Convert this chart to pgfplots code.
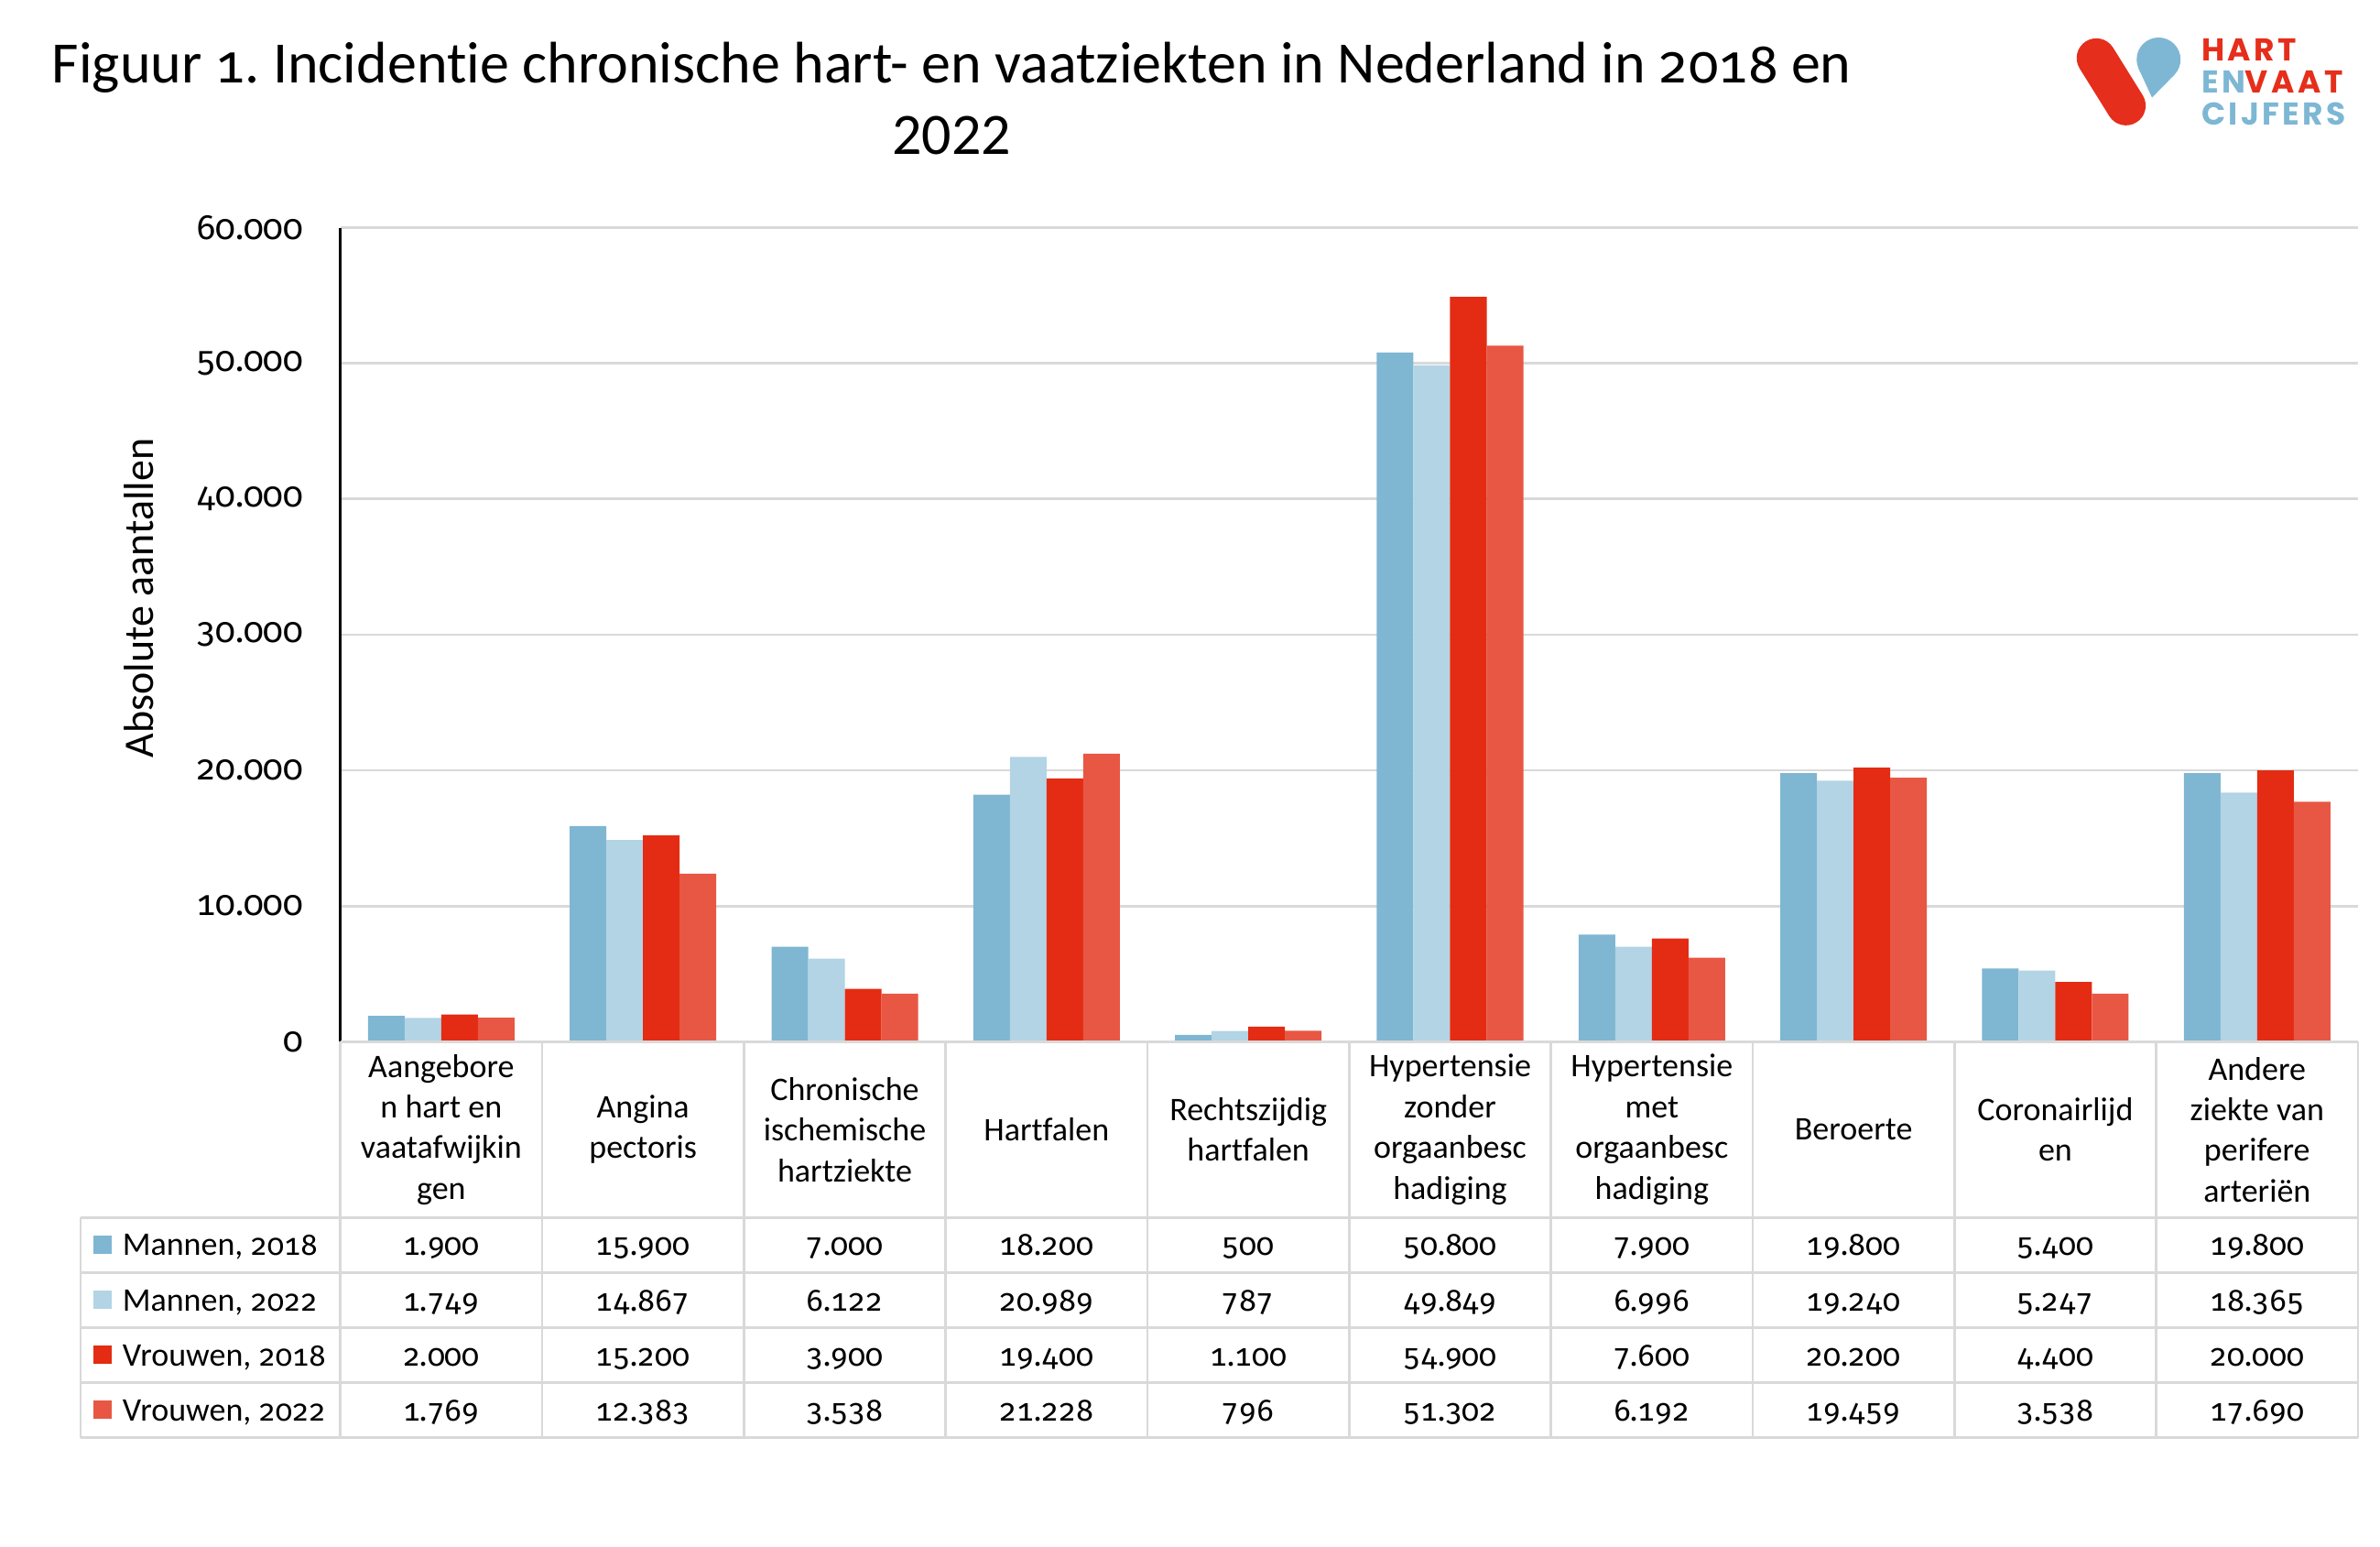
\documentclass[border=0pt]{standalone}
\usepackage{pgfplots}
\pgfplotsset{compat=1.18}
\usepackage{pgfplotstable}
\usepackage{fontspec}
\setmainfont{Carlito}[Ligatures=NoCommon]
\newfontfamily\numfont{Fira Sans}[Numbers={OldStyle,Monospaced}, Scale=MatchLowercase]
\newfontfamily\logofont{Poppins}[LetterSpace=10]
\definecolor{mblue}{HTML}{7FB6D2}
\definecolor{lblue}{HTML}{B2D4E5}
\definecolor{vred}{HTML}{E32C13}
\definecolor{lred}{HTML}{E85744}
\definecolor{gridgray}{HTML}{D9D9D9}
\definecolor{logored}{HTML}{E52E1B}
\definecolor{logoblue}{HTML}{7DB7D4}

\pgfplotstableread{
x m18 m22 v18 v22
0 1900 1749 2000 1769
1 15900 14867 15200 12383
2 7000 6122 3900 3538
3 18200 20989 19400 21228
4 500 787 1100 796
5 50800 49849 54900 51302
6 7900 6996 7600 6192
7 19800 19240 20200 19459
8 5400 5247 4400 3538
9 19800 18365 20000 17690
}\datatable

\begin{document}
\frenchspacing
\begin{tikzpicture}
\path[use as bounding box] (0,0) rectangle (649.75pt,422.25pt);

% title
\node[anchor=base, inner sep=0pt, font=\fontsize{16}{19}\selectfont] at (259.8pt,399.5pt)
  {Figuur {\numfont 1}. Incidentie chronische hart- en vaatziekten in Nederland in {\numfont 2018} en};
\node[anchor=base, inner sep=0pt, font=\fontsize{16}{19}\selectfont] at (259.8pt,380pt) {2022};

% bar chart
\begin{axis}[
  at={(92.93pt,137.93pt)}, anchor=south west,
  width=550.8pt, height=222.17pt, scale only axis,
  xmin=-0.5, xmax=9.5, ymin=0, ymax=60000,
  ybar=0pt, bar width=0.1816,
  axis line style={draw=none},
  major tick length=0pt,
  ytick={0,10000,20000,30000,40000,50000,60000},
  scaled y ticks=false,
  ymajorgrids, grid style={gridgray, line width=0.7pt},
  yticklabel style={font=\numfont\fontsize{10.6}{12}\selectfont, inner sep=0pt, xshift=-10pt,
    /pgf/number format/.cd, fixed, precision=0, 1000 sep={.}, assume math mode=true},
  xtick={0,1,2,3,4,5,6,7,8,9},
  xticklabels={{Aangebore\\n hart en\\vaatafwijkin\\gen},
               {Angina\\pectoris},
               {Chronische\\ischemische\\hartziekte},
               {Hartfalen},
               {Rechtszijdig\\hartfalen},
               {Hypertensie\\zonder\\orgaanbesc\\hadiging},
               {Hypertensie\\met\\orgaanbesc\\hadiging},
               {Beroerte},
               {Coronairlijd\\en},
               {Andere\\ziekte van\\perifere\\arteriën}},
  xticklabel style={font=\fontsize{9}{11.1}\selectfont, align=center, anchor=center, yshift=-24pt},
  ylabel={Absolute aantallen},
  ylabel style={font=\fontsize{11.5}{13}\selectfont, at={(axis description cs:-0.0997,0.545)}, anchor=center},
  clip=false,
]
\addplot[fill=mblue, draw=none] table[x=x, y=m18] {\datatable};
\addplot[fill=lblue, draw=none] table[x=x, y=m22] {\datatable};
\addplot[fill=vred, draw=none] table[x=x, y=v18] {\datatable};
\addplot[fill=lred, draw=none] table[x=x, y=v22] {\datatable};
\end{axis}

% y axis line
\draw[black, line width=0.75pt] (92.93pt,137.93pt) -- (92.93pt,360.1pt);

% data table values
\begin{axis}[
  at={(92.93pt,29.8pt)}, anchor=south west,
  width=550.8pt, height=60pt, scale only axis,
  xmin=-0.5, xmax=9.5, ymin=0, ymax=60,
  hide axis, clip=false,
  nodes near coords,
  point meta=explicit,
  every node near coord/.style={anchor=base, inner sep=0pt, font=\numfont\fontsize{9.3}{11}\selectfont, text=black},
  /pgf/number format/.cd, fixed, precision=0, 1000 sep={.}, assume math mode=true,
]
\addplot[draw=none, mark=none] table[x=x, y expr=49.7, meta=m18] {\datatable};
\addplot[draw=none, mark=none] table[x=x, y expr=34.65, meta=m22] {\datatable};
\addplot[draw=none, mark=none] table[x=x, y expr=19.6, meta=v18] {\datatable};
\addplot[draw=none, mark=none] table[x=x, y expr=4.6, meta=v22] {\datatable};
\end{axis}

% table borders
\begin{scope}[gridgray, line width=0.7pt]
\foreach \k in {0,...,10} {
  \draw (92.93pt+55.08pt*\k,29.8pt) -- (92.93pt+55.08pt*\k,137.93pt);
}
\draw (22pt,29.8pt) -- (22pt,89.9pt);
\draw (92.93pt,137.93pt) -- (643.73pt,137.93pt);
\foreach \y in {89.9,74.9,59.8,44.8,29.8} {
  \draw (22pt,\y pt) -- (643.73pt,\y pt);
}
\end{scope}

% legend column
\fill[mblue] (25.5pt,80pt) rectangle (30.5pt,85pt);
\fill[lblue] (25.5pt,64.95pt) rectangle (30.5pt,69.95pt);
\fill[vred] (25.5pt,49.9pt) rectangle (30.5pt,54.9pt);
\fill[lred] (25.5pt,34.9pt) rectangle (30.5pt,39.9pt);
\begin{scope}[every node/.style={anchor=base west, inner sep=0pt, font=\fontsize{9}{11}\selectfont}]
\node at (33.25pt,79.5pt) {Mannen, {\numfont 2018}};
\node at (33.25pt,64.45pt) {Mannen, {\numfont 2022}};
\node at (33.25pt,49.4pt) {Vrouwen, {\numfont 2018}};
\node at (33.25pt,34.4pt) {Vrouwen, {\numfont 2022}};
\end{scope}

% logo
\draw[logored, line width=10.75pt, line cap=round] (572.3pt,406.4pt) -- (580.4pt,393.4pt);
\fill[logoblue] (589.3pt,406pt) circle (6pt);
\fill[logoblue] (587.5pt,395.6pt) -- (583.86pt,403.47pt) -- (593.58pt,401.8pt) -- cycle;
\begin{scope}[every node/.style={anchor=base west, inner sep=0pt, font=\logofont\bfseries\fontsize{8.6}{10}\selectfont}]
\node[text=logored] at (600.8pt,405.6pt) {HART};
\node at (600.8pt,396.9pt) {\textcolor{logoblue}{EN}\textcolor{logored}{VAAT}};
\node[text=logoblue] at (600.8pt,388.1pt) {CIJFERS};
\end{scope}
\end{tikzpicture}
\end{document}
